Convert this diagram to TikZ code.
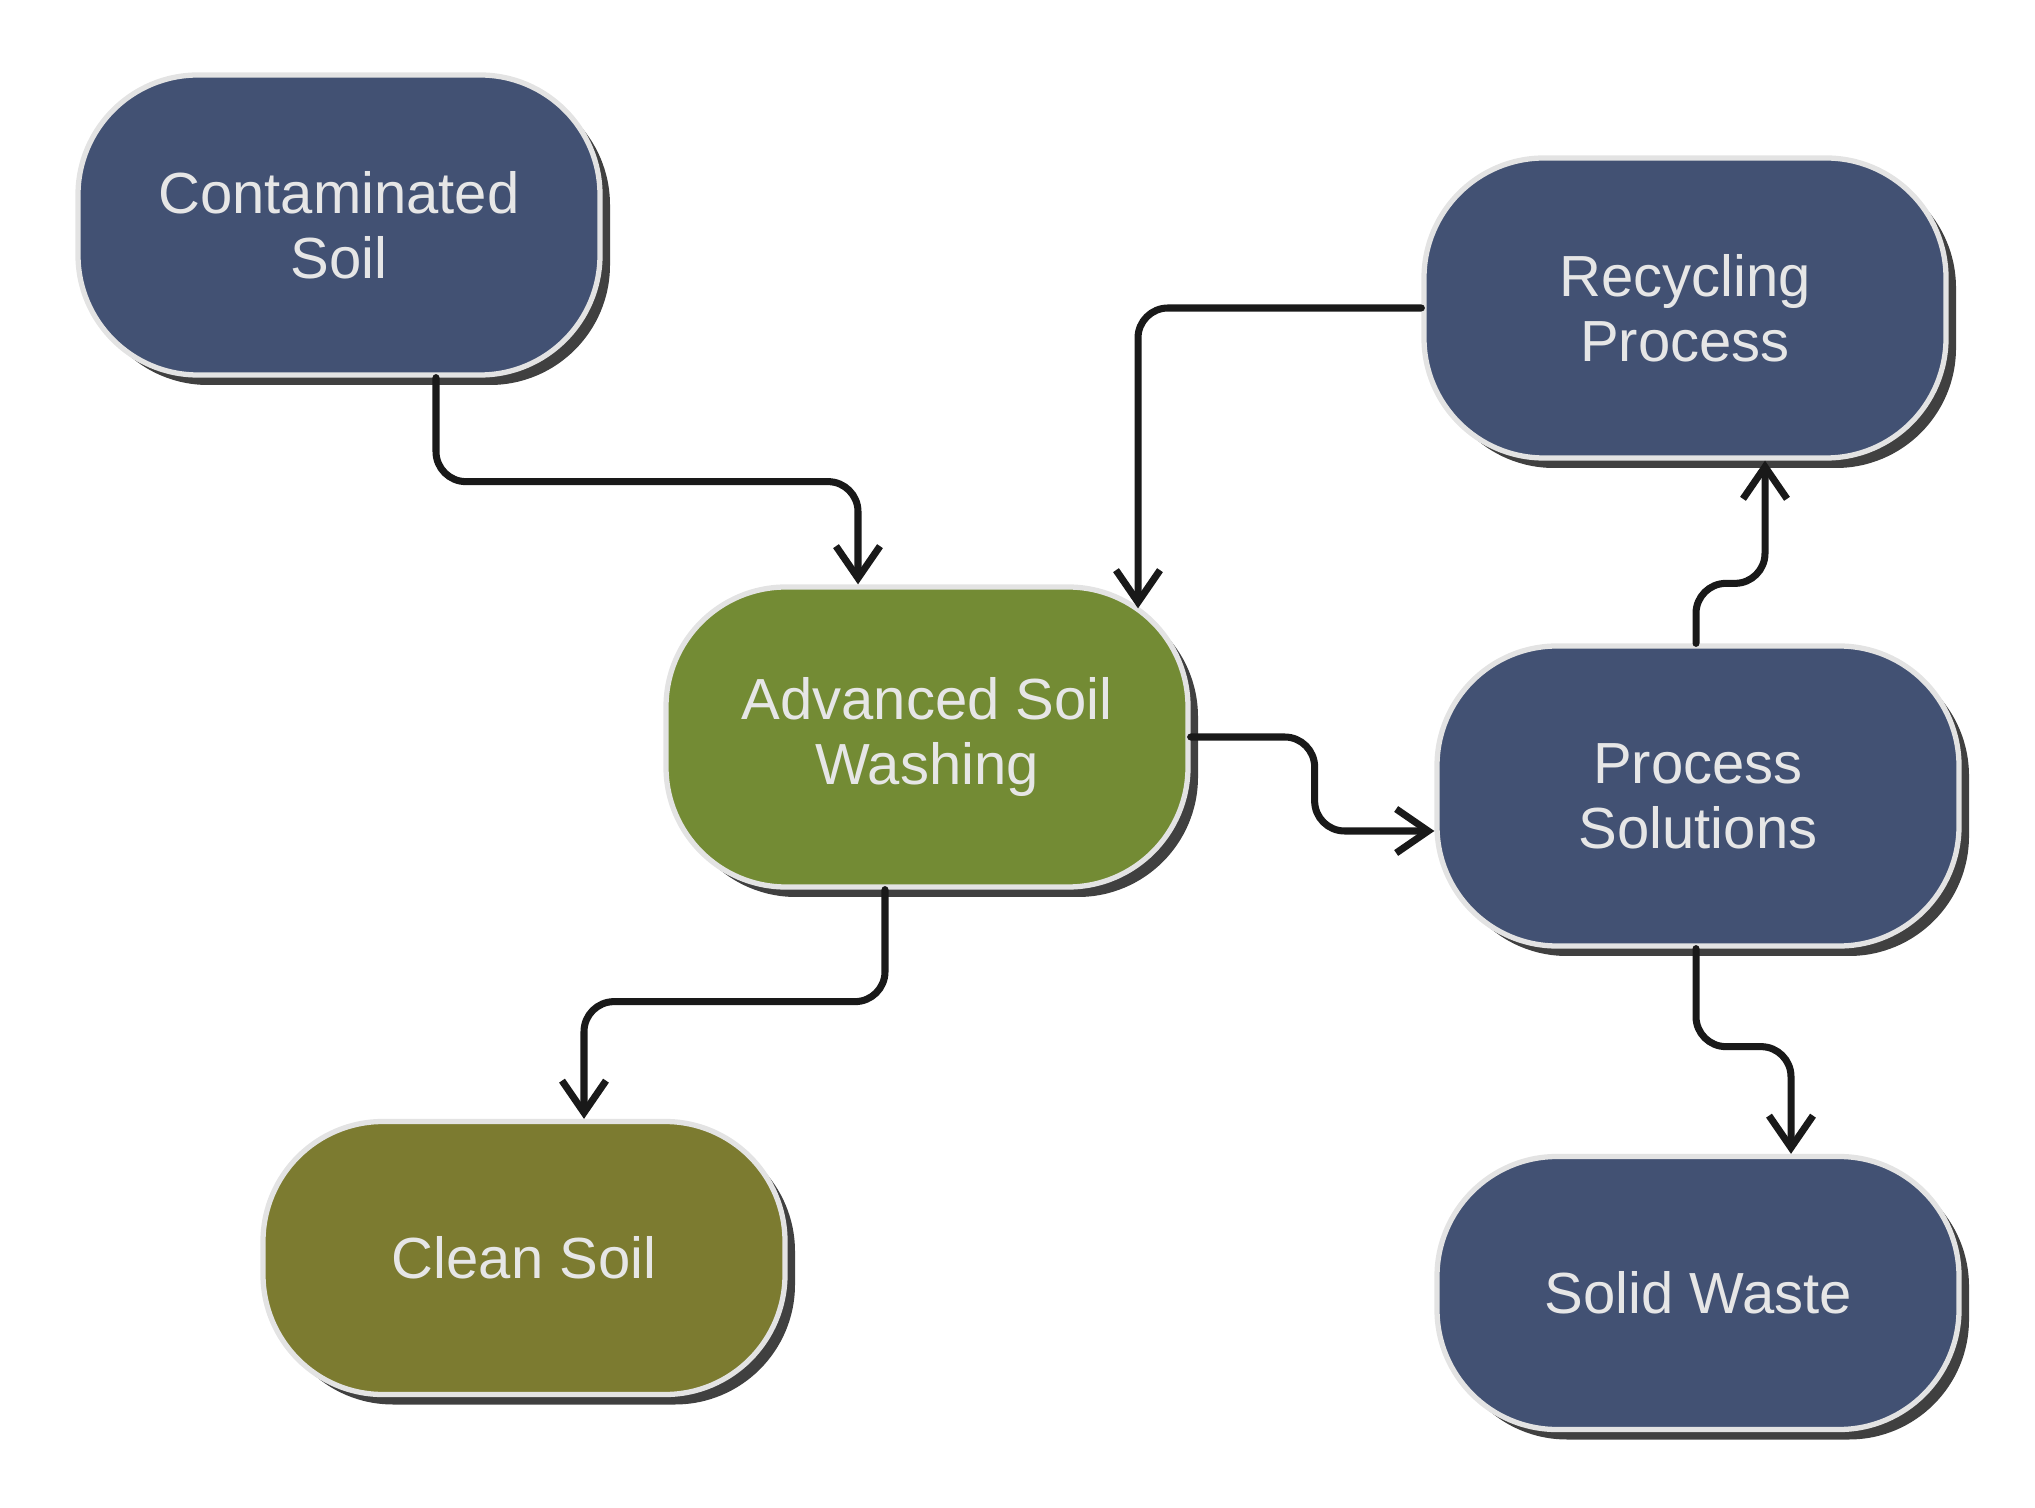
\documentclass[tikz,border=0pt]{standalone}
\usepackage{fontspec}
\setmainfont{Liberation Sans}
\usetikzlibrary{arrows.meta,shadows}

\definecolor{stepblue}{HTML}{425173}
\definecolor{stepgreen}{HTML}{738B34}
\definecolor{stepolive}{HTML}{7C7B30}
\definecolor{steptext}{HTML}{E6E6E6}
\definecolor{stepedge}{HTML}{E3E3E3}

\begin{document}
\begin{tikzpicture}[
        stepbox/.style={draw=stepedge, line width=1.5pt, rounded corners=1.2cm,
            minimum width=5.22cm, minimum height=3cm, align=center,
            text=steptext, font=\fontsize{16.5}{18.5}\selectfont,
            drop shadow={shadow xshift=0.1cm, shadow yshift=-0.1cm, fill=black!75, opacity=1}},
        flow/.style={draw=black!90, line width=2pt, rounded corners=0.3cm, line cap=round,
            -{Straight Barb[length=0.32cm, width=0.44cm, line width=2pt]}}
    ]
        \useasboundingbox (0, 0) rectangle (20.35, -15.08);

        % steps
        \node[stepbox, fill=stepblue] (cs) at (3.39, -2.25) {Contaminated\\Soil};
        \node[stepbox, fill=stepblue] (rp) at (16.85, -3.08) {Recycling\\Process};
        \node[stepbox, fill=stepgreen] (asw) at (9.27, -7.37) {Advanced Soil\\Washing};
        \node[stepbox, fill=stepblue] (ps) at (16.98, -7.96) {Process\\Solutions};
        \node[stepbox, fill=stepolive, minimum height=2.73cm] (cl) at (5.24, -12.58) {Clean Soil};
        \node[stepbox, fill=stepblue, minimum height=2.73cm] (sw) at (16.98, -12.93) {Solid Waste};

        % flows
        \draw[flow] ([xshift=0.97cm]cs.south) -- ++(0, -1.04) -| ([xshift=-0.69cm]asw.north);
        \draw[flow] (rp.west) -| ([xshift=2.11cm, yshift=-0.24cm]asw.north);
        \draw[flow] (asw.east) -- ++(1.24, 0) |- ([yshift=-0.35cm]ps.west);
        \draw[flow] ([xshift=-0.02cm]ps.north) -- ++(0, 0.6) -| ([xshift=0.8cm]rp.south);
        \draw[flow] ([xshift=-0.42cm]asw.south) -- ++(0, -1.12) -| ([xshift=0.6cm]cl.north);
        \draw[flow] ([xshift=-0.02cm]ps.south) -- ++(0, -0.98) -| ([xshift=0.93cm]sw.north);
    \end{tikzpicture}
\end{document}
